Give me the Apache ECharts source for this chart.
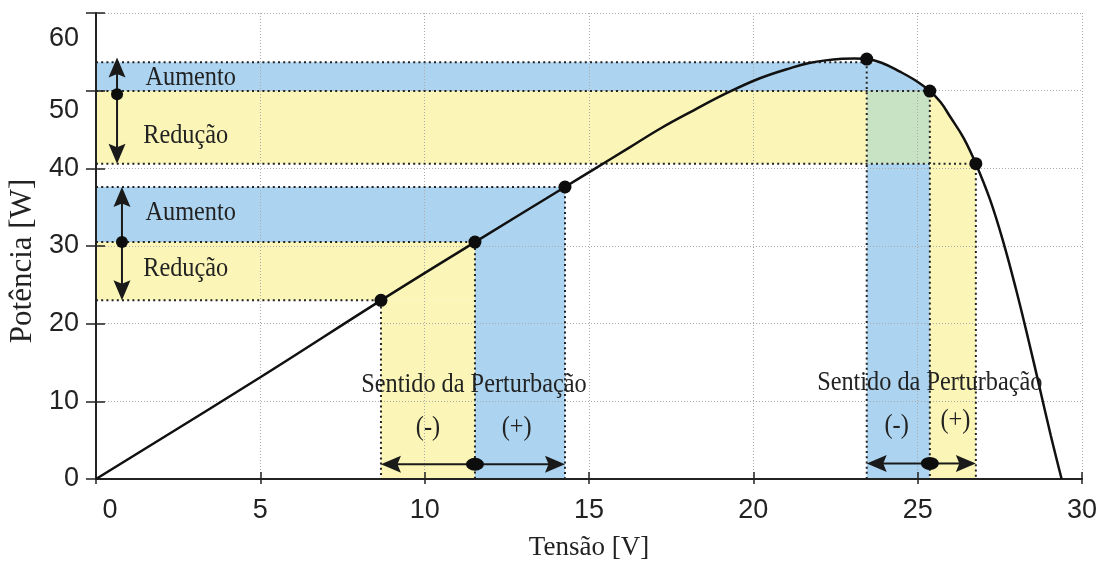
<!DOCTYPE html>
<html><head><meta charset="utf-8">
<script src="https://cdn.jsdelivr.net/npm/echarts@6/dist/echarts.min.js"></script>
<style>html,body{margin:0;padding:0;background:#fff;overflow:hidden}#c{width:1100px;height:562px}</style>
</head><body><div id="c"></div>
<script>
// ---- data ----
const xTicks = [0, 5, 10, 15, 20, 25, 30];
const yTicks = [0, 10, 20, 30, 40, 50, 60];
// P-V curve (V, W)
const curveV = [0, 5, 8.67, 11.53, 14.27, 15.12, 16.2, 17.16, 18.2, 19.2, 20.2, 21.2, 21.7, 22.2, 22.7, 23.1, 23.45, 23.9, 24.46, 24.9, 25.37, 25.7, 25.98, 26.4, 26.77, 27.2, 27.6, 28.0, 28.36, 28.72, 29.05, 29.38];
const curveP = [0, 13.1, 23.0, 30.5, 37.6, 39.8, 42.6, 45.1, 47.5, 49.7, 51.6, 53.0, 53.55, 53.9, 54.1, 54.15, 54.07, 53.6, 52.45, 51.4, 49.95, 48.5, 46.7, 43.9, 40.6, 36.0, 30.6, 24.3, 18.1, 11.6, 5.6, 0];
// operating points (left group: 0..2, right group: 3..5)
const pointsV = [8.67, 11.53, 14.27, 23.45, 25.37, 26.77];
const pointsP = [23.0, 30.5, 37.6, 54.07, 49.95, 40.6];
// markers on the power axis and perturbation arrows level
const sideMarkV = [0.64, 0.79];
const perturbP = [1.9, 2.0];
// annotations
const bandTexts = ['Aumento', 'Redução', 'Aumento', 'Redução'];
const bandTextV = [2.88, 2.73, 2.88, 2.73];
const bandTextP = [51.6, 44.2, 34.3, 27.0];
const dirTexts = ['Sentido da Perturbação', '(-)', '(+)', 'Sentido da Perturbação', '(-)', '(+)'];
const dirTextV = [11.5, 10.1, 12.8, 25.37, 24.36, 26.15];
const dirTextP = [12.17, 6.57, 6.57, 12.36, 6.85, 7.5];

// ---- derived geometry (in data units) ----
const COLORS = { aum: '#acd4f0', red: '#fbf6b7', both: '#c8e3c4' };
function curveAt(x) {
  for (let i = 0; i < curveV.length - 1; i++) {
    if (x >= curveV[i] && x <= curveV[i + 1]) {
      const t = (x - curveV[i]) / (curveV[i + 1] - curveV[i]);
      return curveP[i] + t * (curveP[i + 1] - curveP[i]);
    }
  }
  return 0;
}
function rect(x0, x1, y0, y1) { return [[x0, y0], [x0, y1], [x1, y1], [x1, y0]]; }
function underCurve(x0, x1, ylo, yhi) {
  const pts = [[x0, ylo], [x0, Math.min(yhi, curveAt(x0))]];
  curveV.forEach((v, i) => { if (v > x0 && v < x1) pts.push([v, Math.min(yhi, curveP[i])]); });
  pts.push([x1, Math.min(yhi, curveAt(x1))], [x1, ylo]);
  return pts;
}
const P = pointsV.map((v, i) => ({ x: v, y: pointsP[i] }));
const topBand = P[3].y - 0.4;
const regions = [];
{ // rising side
  const A = P[0], B = P[1], C = P[2];
  regions.push({ k: 'red', poly: rect(0, B.x, A.y, B.y) });
  regions.push({ k: 'red', poly: rect(A.x, B.x, 0, A.y) });
  regions.push({ k: 'aum', poly: rect(0, C.x, B.y, C.y) });
  regions.push({ k: 'aum', poly: rect(B.x, C.x, 0, B.y) });
}
{ // falling side
  const A = P[3], B = P[4], C = P[5];
  regions.push({ k: 'aum', poly: rect(0, A.x, B.y, topBand) });
  regions.push({ k: 'aum', poly: underCurve(A.x, B.x, B.y, topBand) });
  regions.push({ k: 'aum', poly: rect(A.x, B.x, 0, C.y) });
  regions.push({ k: 'both', poly: rect(A.x, B.x, C.y, B.y) });
  regions.push({ k: 'red', poly: rect(0, A.x, C.y, B.y) });
  regions.push({ k: 'red', poly: underCurve(B.x, C.x, C.y, 100) });
  regions.push({ k: 'red', poly: rect(B.x, C.x, 0, C.y) });
}
const sideDots = [[sideMarkV[0], P[4].y - 0.4], [sideMarkV[1], P[1].y]];
const bottomDots = [[P[1].x, perturbP[0]], [P[4].x, perturbP[1]]];
const arrows = [
  [sideMarkV[0], P[4].y - 0.4, sideMarkV[0], P[3].y + 0.2],
  [sideMarkV[0], P[4].y - 0.4, sideMarkV[0], P[5].y],
  [sideMarkV[1], P[1].y, sideMarkV[1], P[2].y],
  [sideMarkV[1], P[1].y, sideMarkV[1], P[0].y],
  [P[1].x, perturbP[0], P[0].x, perturbP[0]],
  [P[1].x, perturbP[0], P[2].x, perturbP[0]],
  [P[4].x, perturbP[1], P[3].x, perturbP[1]],
  [P[4].x, perturbP[1], P[5].x, perturbP[1]]
];
const texts = bandTexts.map((t, i) => [bandTextV[i], bandTextP[i], t])
  .concat(dirTexts.map((t, i) => [dirTextV[i], dirTextP[i], t]));
// dotted guide lines: L-shapes from the power axis to each point and down to the voltage axis
const guides = pointsV.map((v, i) => [v, pointsP[i]]);
guides[3] = [pointsV[3], topBand];

const chart = echarts.init(document.getElementById('c'), null, { renderer: 'canvas' });
const SANS = 'Liberation Sans', SERIF = 'Liberation Serif', INK = '#222';
const labelBase = { fontFamily: SANS, fontSize: 27, color: INK };
const DOT = { color: '#0d0d0d', opacity: 1 };

chart.setOption({
  animation: false,
  grid: { left: 96, right: 18, top: 13, bottom: 83, containLabel: false, outerBoundsMode: 'none' },
  xAxis: [{
    type: 'value', min: 0, max: 30, interval: 5, position: 'bottom',
    name: 'Tensão [V]', nameLocation: 'middle', nameGap: 55,
    nameTextStyle: { fontFamily: SERIF, fontSize: 27, color: INK },
    axisLine: { show: true, onZero: false, lineStyle: { color: INK, width: 2 } },
    axisTick: { show: true, inside: true, length: 7, lineStyle: { color: INK, width: 1.5 } },
    axisLabel: {
      margin: 18, ...labelBase,
      formatter: v => v === 0 ? '{z|0}' : String(v),
      rich: { z: { ...labelBase, padding: [0, 0, 0, 28] } }
    },
    splitLine: { show: true, lineStyle: { color: '#aaa', width: 1, type: [1, 2] } }
  }, {
    type: 'value', min: 0, max: 30, interval: 5, position: 'top',
    axisLine: { show: false },
    axisTick: { show: true, inside: true, length: 5, lineStyle: { color: INK, width: 1.5 } },
    axisLabel: { show: false }, splitLine: { show: false }
  }],
  yAxis: [{
    type: 'value', min: 0, max: 60, interval: 10, position: 'left',
    name: 'Potência [W]', nameLocation: 'middle', nameGap: 58,
    nameTextStyle: { fontFamily: SERIF, fontSize: 31, color: INK, padding: [0, 30, 0, 0] },
    axisLine: { show: true, onZero: false, lineStyle: { color: INK, width: 2 } },
    axisTick: { show: true, inside: true, length: 9, lineStyle: { color: INK, width: 1.5 } },
    axisLabel: {
      margin: 17, ...labelBase,
      formatter: v => v === 60 ? '{a|60}' : (v === 50 ? '{b|50}' : String(v)),
      rich: { a: { ...labelBase, padding: [52, 0, 0, 0] }, b: { ...labelBase, padding: [40, 0, 0, 0] } }
    },
    splitLine: { show: true, lineStyle: { color: '#aaa', width: 1, type: [1, 2] } }
  }, {
    type: 'value', min: 0, max: 60, interval: 10, position: 'right',
    axisLine: { show: false },
    axisTick: { show: true, inside: true, length: 10, lineStyle: { color: INK, width: 1.5 } },
    axisLabel: { show: false }, splitLine: { show: false }
  }],
  series: [
    { // shaded regions
      type: 'custom', z: -1, silent: true, clip: false,
      data: regions.map((r, i) => [i, 0]),
      renderItem: (params, api) => {
        const r = regions[params.dataIndex];
        return { type: 'polygon', shape: { points: r.poly.map(p => api.coord(p)) }, style: { fill: COLORS[r.k] } };
      }
    },
    { // dotted guide lines
      type: 'custom', z: 3, silent: true, clip: false,
      data: guides,
      renderItem: (params, api) => {
        const v = api.value(0), p = api.value(1);
        return {
          type: 'polyline',
          shape: { points: [api.coord([0, p]), api.coord([v, p]), api.coord([v, 0])] },
          style: { stroke: '#222', lineWidth: 2, lineDash: [2, 3.2], fill: null }
        };
      }
    },
    {
      type: 'line', z: 4, silent: true, showSymbol: false, smooth: 0.4,
      data: curveV.map((v, i) => [v, curveP[i]]),
      lineStyle: { color: '#111', width: 2.5 }
    },
    { // arrows
      type: 'custom', z: 5, silent: true, clip: false,
      data: arrows,
      renderItem: (params, api) => {
        const a = arrows[params.dataIndex];
        const p0 = api.coord([a[0], a[1]]), p1 = api.coord([a[2], a[3]]);
        let dx = p1[0] - p0[0], dy = p1[1] - p0[1];
        const len = Math.hypot(dx, dy); dx /= len; dy /= len;
        const hl = 20, hw = 8.5;
        const bx = p1[0] - dx * hl, by = p1[1] - dy * hl;
        const nx = -dy, ny = dx;
        return {
          type: 'group', children: [
            { type: 'line', shape: { x1: p0[0], y1: p0[1], x2: bx + dx * 4, y2: by + dy * 4 }, style: { stroke: '#1a1a1a', lineWidth: 2 } },
            { type: 'polygon', shape: { points: [p1, [bx + nx * hw, by + ny * hw], [bx + dx * 3.5, by + dy * 3.5], [bx - nx * hw, by - ny * hw]] }, style: { fill: '#1a1a1a' } }
          ]
        };
      }
    },
    {
      type: 'scatter', z: 6, silent: true, symbol: 'circle', symbolSize: 13,
      data: pointsV.map((v, i) => [v, pointsP[i]]), itemStyle: DOT
    },
    {
      type: 'scatter', z: 6, silent: true, symbol: 'circle', symbolSize: 12,
      data: sideDots, itemStyle: DOT
    },
    {
      type: 'scatter', z: 6, silent: true, symbol: 'circle', symbolSize: [18, 13],
      data: bottomDots, itemStyle: DOT
    },
    { // annotation texts
      type: 'custom', z: 7, silent: true, clip: false,
      data: texts,
      renderItem: (params, api) => {
        const t = texts[params.dataIndex];
        const c = api.coord([t[0], t[1]]);
        return {
          type: 'text', x: c[0], y: c[1], scaleX: 0.9,
          style: {
            text: t[2], fontFamily: SERIF, fontSize: 27, fill: INK,
            align: 'center', verticalAlign: 'middle', textAlign: 'center', textVerticalAlign: 'middle'
          }
        };
      }
    }
  ]
});
</script></body></html>
